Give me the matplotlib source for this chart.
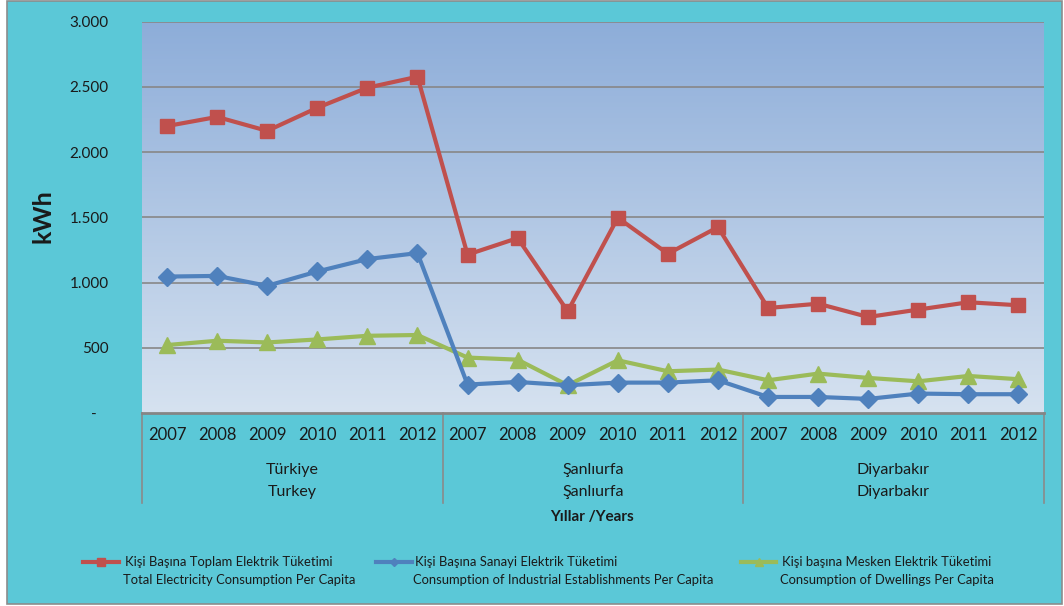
import numpy as np
import matplotlib
matplotlib.use("Agg")
import matplotlib.pyplot as plt
from matplotlib.colors import LinearSegmentedColormap
from matplotlib.lines import Line2D
from matplotlib.patches import Rectangle
from matplotlib.transforms import blended_transform_factory

plt.rcParams['font.family'] = ['Lato', 'DejaVu Sans']

# data
years = ['2007', '2008', '2009', '2010', '2011', '2012']
regions = [('Türkiye', 'Turkey'), ('Şanlıurfa', 'Şanlıurfa'), ('Diyarbakır', 'Diyarbakır')]

total = [2200, 2270, 2163, 2340, 2494, 2578,
         1214, 1341, 780, 1497, 1221, 1425,
         805, 838, 736, 793, 849, 826]
industrial = [1046, 1051, 975, 1085, 1180, 1226,
              218, 238, 213, 233, 233, 251,
              123, 123, 108, 149, 144, 144]
dwellings = [521, 554, 541, 564, 592, 598,
             425, 409, 213, 404, 320, 333,
             251, 302, 269, 243, 284, 259]

yticks = [0, 500, 1000, 1500, 2000, 2500, 3000]
ytick_labels = ['-   ', '500', '1.000', '1.500', '2.000', '2.500', '3.000']

legend_labels = [
    ('Kişi Başına Toplam Elektrik Tüketimi', 'Total Electricity Consumption Per Capita'),
    ('Kişi Başına Sanayi Elektrik Tüketimi', 'Consumption of Industrial Establishments Per Capita'),
    ('Kişi başına Mesken Elektrik Tüketimi', 'Consumption of Dwellings Per Capita'),
]

red = '#C0504D'
blue = '#4F81BD'
green = '#9BBB59'
bg = '#5BC8D7'
txt = '#1A1A1A'

W, H = 1064, 606
fig = plt.figure(figsize=(W / 100, H / 100), dpi=100)
fig.patch.set_facecolor('white')
fig.add_artist(Rectangle((7 / W, 1 - 604 / H), 1055 / W, 603 / H,
                         transform=fig.transFigure, facecolor=bg,
                         edgecolor='#8C8C8C', linewidth=1.2, zorder=0))

ax = fig.add_axes([142 / W, 1 - 413 / H, 901.5 / W, 391.3 / H])
ax.set_facecolor('none')
n = len(years) * len(regions)
x = np.arange(n)
ax.set_xlim(-0.5, n - 0.5)
ax.set_ylim(0, 3000)

# gradient fill of the plot area
cmap = LinearSegmentedColormap.from_list('plotbg', ['#D6E2F0', '#8DADD9'])
ax.imshow(np.linspace(0, 1, 256).reshape(-1, 1), extent=[-0.5, n - 0.5, 0, 3000],
          origin='lower', aspect='auto', cmap=cmap, zorder=0)

for y in yticks[1:]:
    ax.axhline(y, color='#878787', lw=1.2, zorder=1)

ax.plot(x, total, color=red, lw=3, marker='s', ms=10.5, zorder=5)
ax.plot(x, industrial, color=blue, lw=3, marker='D', ms=9, zorder=4)
ax.plot(x, dwellings, color=green, lw=3, marker='^', ms=11, zorder=3)

for s in ['top', 'right', 'left']:
    ax.spines[s].set_visible(False)
ax.spines['bottom'].set_color('#858585')
ax.spines['bottom'].set_linewidth(2)

ax.set_yticks(yticks)
ax.set_yticklabels(ytick_labels)
ax.tick_params(axis='y', length=0, pad=24, labelsize=11, labelcolor=txt)
ax.set_xticks(x)
ax.set_xticklabels(years * len(regions))
ax.tick_params(axis='x', length=0, pad=10, labelsize=12, labelcolor=txt)

# category groups under the years
trans = blended_transform_factory(ax.transData, ax.transAxes)
px = 1 / 391.3
for b in [-0.5, 5.5, 11.5, 17.5]:
    ax.plot([b, b], [0, -90 * px], color='#8A8A8A', lw=1.2,
            transform=trans, clip_on=False)
for i, (tr, en) in enumerate(regions):
    cx = i * 6 + 2.5
    ax.text(cx, -57 * px, tr, transform=trans, ha='center', va='center',
            fontsize=11.5, color=txt)
    ax.text(cx, -79 * px, en, transform=trans, ha='center', va='center',
            fontsize=11.5, color=txt)

fig.text(592 / W, 1 - 517 / H, 'Yıllar /Years', ha='center', va='center',
         fontsize=11, fontweight='bold', color=txt)
fig.text(43 / W, 1 - 216 / H, 'kWh', ha='center', va='center', rotation=90,
         fontsize=18, fontweight='bold', color=txt)

# legend along the bottom
entries = [(red, 's', 5.5, 83, 119, 125), (blue, 'D', 4.5, 376, 412, 415),
           (green, '^', 6, 741, 776, 782)]
for (c, m, ms, x0, x1, tx), (l1, l2) in zip(entries, legend_labels):
    fig.add_artist(Line2D([x0 / W, x1 / W], [1 - 562 / H] * 2, color=c, lw=3,
                          transform=fig.transFigure))
    fig.add_artist(Line2D([(x0 + x1) / 2 / W], [1 - 562 / H], color=c, marker=m,
                          ms=ms, transform=fig.transFigure))
    fig.text(tx / W, 1 - 562 / H, l1, ha='left', va='center', fontsize=9.4, color=txt)
    fig.text((tx - 2) / W, 1 - 580 / H, l2, ha='left', va='center', fontsize=9.4, color=txt)

fig.savefig('out.png', dpi=100)
